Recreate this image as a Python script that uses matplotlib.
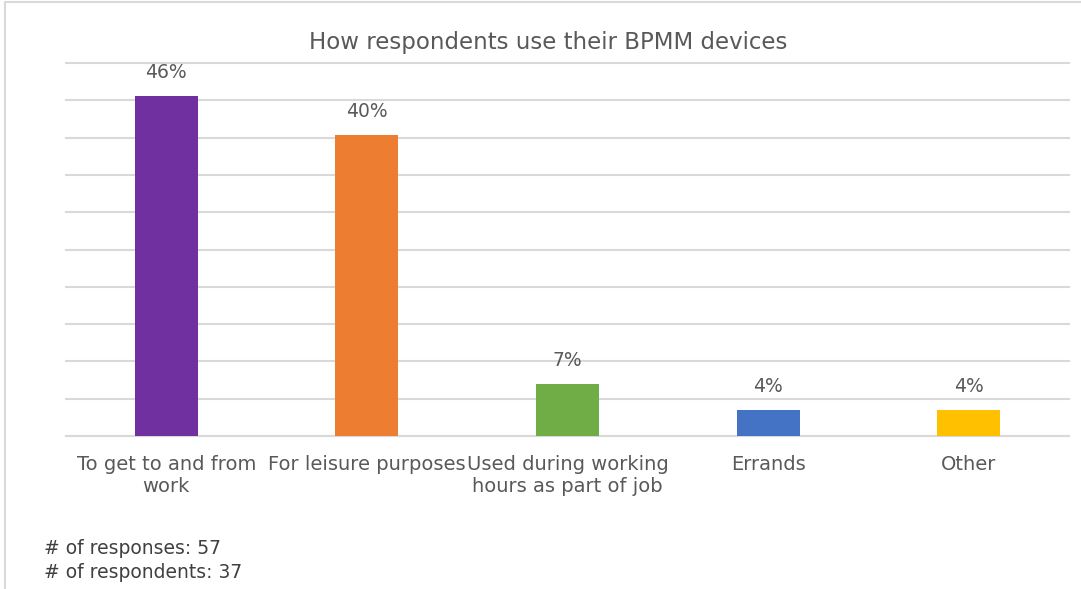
import matplotlib
matplotlib.use("Agg")
import matplotlib.pyplot as plt
from matplotlib.patches import Rectangle

categories = ["To get to and from\nwork", "For leisure purposes", "Used during working\nhours as part of job", "Errands", "Other"]
counts = [26, 23, 4, 2, 2]
total_responses = 57
respondents = 37
values = [c / total_responses * 100 for c in counts]
labels = ["46%", "40%", "7%", "4%", "4%"]
colors = ["#7030a0", "#ed7d31", "#70ad47", "#4472c4", "#ffc000"]

plt.rcParams['font.family'] = ['DejaVu Sans']
txt = "#595959"
grid = "#d9d9d9"

fig = plt.figure(figsize=(10.81, 5.89), dpi=100)
ax = fig.add_axes([66/1081, 1-436/589, (1069-66)/1081, (436-63)/589])

x = list(range(len(categories)))
ax.bar(x, values, width=0.315, color=colors, zorder=3)
ax.set_xlim(-0.5, len(categories)-0.5)
ax.set_ylim(0, 50)
ax.set_yticks(range(0, 51, 5))
ax.yaxis.grid(True, color=grid, linewidth=1.5, zorder=0)
for gl in ax.get_ygridlines():
    gl.set_clip_on(False)
ax.tick_params(axis='y', left=False, labelleft=False)
ax.tick_params(axis='x', length=0, pad=14, colors=txt, labelsize=14)
ax.set_xticks(x)
ax.set_xticklabels(categories, color=txt, linespacing=1.2)
for s in ["top", "right", "left"]:
    ax.spines[s].set_visible(False)
ax.spines["bottom"].set_color(grid)
ax.spines["bottom"].set_linewidth(1.5)

for xi, v, lab in zip(x, values, labels):
    ax.annotate(lab, (xi, v), xytext=(0, 10), textcoords="offset points",
                ha="center", va="bottom", color=txt, fontsize=13.5)

fig.text(548/1081, 1-42/589, "How respondents use their BPMM devices", ha="center", va="center",
         color=txt, fontsize=16.5)
fig.text(44/1081, 1-548/589, "# of responses: 57", ha="left", va="center", color="#404040", fontsize=13.5)
fig.text(44/1081, 1-572/589, "# of respondents: 37", ha="left", va="center", color="#404040", fontsize=13.5)

fig.patches.append(Rectangle((5/1081, -0.1), 1.2, 1-2/589+0.1, transform=fig.transFigure,
                             fill=False, edgecolor=grid, linewidth=1.5))

fig.savefig("out.png", dpi=100)
